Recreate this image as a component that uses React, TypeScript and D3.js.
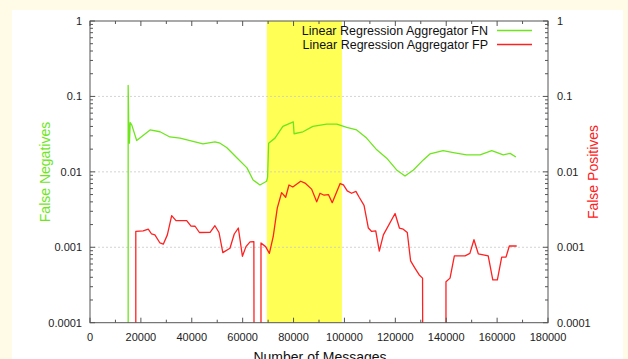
import React from 'react'
import * as d3 from 'd3'

const WIDTH = 628
const HEIGHT = 359
const MARGIN = { top: 21, right: 80, bottom: 36, left: 90 }

// out-of-range value used where a series drops to zero (clipped away on log axis)
const ZERO = 1e-5

const fnX = [
  15000, 15000, 15200, 15500, 15800, 16400, 18350, 23600, 27500, 31400, 35400, 39300, 44400, 49100,
  51100, 53700, 57700, 61700, 64100, 66800, 69400, 69800, 70200, 72700, 75800, 79900, 80200, 83700,
  87600, 93000, 97000, 100900, 104800, 108700, 112700, 116600, 120500, 123800, 127100, 131000,
  133600, 138800, 142800, 148000, 153300, 157900, 162400, 165100, 167400
]
const fnY = [
  ZERO, 0.14, 0.048, 0.024, 0.045, 0.042, 0.026, 0.036, 0.034, 0.029, 0.028, 0.026, 0.0235, 0.025,
  0.024, 0.021, 0.0154, 0.0113, 0.0078, 0.0067, 0.0075, 0.0085, 0.024, 0.028, 0.04, 0.046, 0.032,
  0.034, 0.04, 0.043, 0.043, 0.039, 0.036, 0.028, 0.0196, 0.0152, 0.0106, 0.0088, 0.0106, 0.0144,
  0.0173, 0.0191, 0.018, 0.0168, 0.0168, 0.0191, 0.0168, 0.0176, 0.0157
]

const fpX = [
  18000, 18000, 20900, 22900, 24200, 25500, 27500, 28800, 30400, 32100, 33800, 38000, 39700, 41300,
  43000, 47200, 49100, 50700, 52200, 55000, 56700, 58300, 59900, 61300, 62900, 64400, 64500, 67200,
  67200, 69000, 70500, 72000, 73600, 75300, 76900, 78200, 79700, 82800, 84500, 87100, 89100, 90400,
  92000, 93700, 95200, 98300, 99600, 101100, 102800, 104500, 105800, 107700, 109400, 110700, 112300,
  113700, 115300, 119900, 121600, 123100, 124700, 126000, 127700, 129400, 130700, 130800, 139900,
  139900, 141500, 143200, 147400, 149300, 150900, 152600, 156500, 158300, 160100, 161800, 163500,
  164800, 167700
]
const fpY = [
  ZERO, 0.00162, 0.00165, 0.00174, 0.0015, 0.00146, 0.00114, 0.0011, 0.00146, 0.00263, 0.00226,
  0.00226, 0.00191, 0.0019, 0.00157, 0.00158, 0.00193, 0.00157, 0.00085, 0.00097, 0.0015, 0.0018,
  0.00076, 0.00102, 0.00118, 0.00119, ZERO, ZERO, 0.00114, 0.00102, 0.00083, 0.00138, 0.0033, 0.0053,
  0.0046, 0.0067, 0.0063, 0.0075, 0.0071, 0.0059, 0.004, 0.0052, 0.0049, 0.005, 0.0039, 0.007,
  0.0067, 0.0056, 0.0052, 0.0055, 0.0046, 0.0036, 0.0018, 0.00162, 0.00165, 0.00089, 0.00146, 0.0028,
  0.0018, 0.00174, 0.00157, 0.00066, 0.00053, 0.00043, 0.00039, ZERO, ZERO, 0.00035, 0.00039,
  0.00077, 0.00077, 0.00083, 0.00126, 0.00082, 0.00077, 0.00037, 0.00037, 0.00074, 0.00074, 0.00104,
  0.00104
]

const highlight = [69500, 99000]
const xTicks = [0, 20000, 40000, 60000, 80000, 100000, 120000, 140000, 160000, 180000]
const yTicks = [0.0001, 0.001, 0.01, 0.1, 1]
const yTickLabels = ['0.0001', '0.001', '0.01', '0.1', '1']

const seriesNames = ['Linear Regression Aggregator FN', 'Linear Regression Aggregator FP']
const GREEN = '#6ee61c'
const RED = '#ff2020'

const x = d3.scaleLinear().domain([0, 180000]).range([MARGIN.left, WIDTH - MARGIN.right])
const y = d3.scaleLog().domain([0.0001, 1]).range([HEIGHT - MARGIN.bottom - 0.3, MARGIN.top])

const line = d3
  .line<[number, number]>()
  .x(d => x(d[0]))
  .y(d => y(d[1]))

const App = () => {
  const left = x.range()[0]
  const right = x.range()[1]
  const top = y.range()[1]
  const bottom = y.range()[0]

  const minorX = d3.range(10000, 180000, 20000)
  const minorY: number[] = []
  for (let e = -4; e < 0; e++) {
    for (let m = 2; m <= 9; m++) minorY.push(m * Math.pow(10, e))
  }

  const fnPath = line(fnX.map((v, i) => [v, fnY[i]]))
  const fpPath = line(fpX.map((v, i) => [v, fpY[i]]))

  const font = 'Liberation Sans, Arial, sans-serif'

  return (
    <svg
      width={WIDTH}
      height={HEIGHT}
      style={{ position: 'absolute', left: 0, top: 0, background: '#fffbe6' }}
      fontFamily={font}
    >
      <rect x={12} y={10} width={611} height={HEIGHT - 10} fill="#fff" />
      <defs>
        <clipPath id="plot">
          <rect x={left} y={top} width={right - left} height={bottom - top} />
        </clipPath>
      </defs>

      <rect
        x={x(highlight[0])}
        y={top}
        width={x(highlight[1]) - x(highlight[0])}
        height={bottom - top}
        fill="#ffff55"
      />

      {yTicks.slice(1, -1).map(t => (
        <line
          key={t}
          x1={left}
          x2={right}
          y1={y(t)}
          y2={y(t)}
          stroke="#c8c8c8"
          strokeWidth={0.8}
          strokeDasharray="2,2"
        />
      ))}

      <g clipPath="url(#plot)" fill="none" strokeWidth={1.3} strokeLinejoin="round">
        <path d={fnPath || ''} stroke={GREEN} />
        <path d={fpPath || ''} stroke={RED} />
      </g>

      {/* frame */}
      <rect x={left} y={top} width={right - left} height={bottom - top} fill="none" stroke="#555" strokeWidth={1} />

      {/* x ticks */}
      {xTicks.map(t => (
        <g key={t}>
          <line x1={x(t)} x2={x(t)} y1={bottom} y2={bottom - 5} stroke="#555" />
          <line x1={x(t)} x2={x(t)} y1={top} y2={top + 5} stroke="#555" />
          <text x={x(t)} y={341} textAnchor="middle" fontSize={11} fill="#222">
            {t}
          </text>
        </g>
      ))}
      {minorX.map(t => (
        <g key={t}>
          <line x1={x(t)} x2={x(t)} y1={bottom} y2={bottom - 3} stroke="#555" />
          <line x1={x(t)} x2={x(t)} y1={top} y2={top + 3} stroke="#555" />
        </g>
      ))}

      {/* y ticks, both sides */}
      {yTicks.map((t, i) => (
        <g key={t}>
          <line x1={left} x2={left + 5} y1={y(t)} y2={y(t)} stroke="#555" />
          <line x1={right} x2={right - 5} y1={y(t)} y2={y(t)} stroke="#555" />
          <text x={82} y={y(t) + 4} textAnchor="end" fontSize={11} fill="#222">
            {yTickLabels[i]}
          </text>
          <text x={557} y={y(t) + 4} textAnchor="start" fontSize={11} fill="#222">
            {yTickLabels[i]}
          </text>
        </g>
      ))}
      {minorY.map(t => (
        <g key={t}>
          <line x1={left} x2={left + 3} y1={y(t)} y2={y(t)} stroke="#555" />
          <line x1={right} x2={right - 3} y1={y(t)} y2={y(t)} stroke="#555" />
        </g>
      ))}

      {/* legend */}
      {seriesNames.map((name, i) => (
        <g key={name}>
          <text x={488} y={35 + i * 14} textAnchor="end" fontSize={12.5} fill="#111">
            {name}
          </text>
          <line x1={497} x2={532} y1={30.5 + i * 14} y2={30.5 + i * 14} stroke={i === 0 ? GREEN : RED} strokeWidth={1.3} />
        </g>
      ))}

      {/* axis titles */}
      <text
        transform={`translate(50,172) rotate(-90)`}
        textAnchor="middle"
        fontSize={14}
        fill={GREEN}
      >
        False Negatives
      </text>
      <text
        transform={`translate(598,172) rotate(-90)`}
        textAnchor="middle"
        fontSize={14}
        fill={RED}
      >
        False Positives
      </text>
      <text x={320} y={362} textAnchor="middle" fontSize={14} fill="#111">
        Number of Messages
      </text>
    </svg>
  )
}

export default App
